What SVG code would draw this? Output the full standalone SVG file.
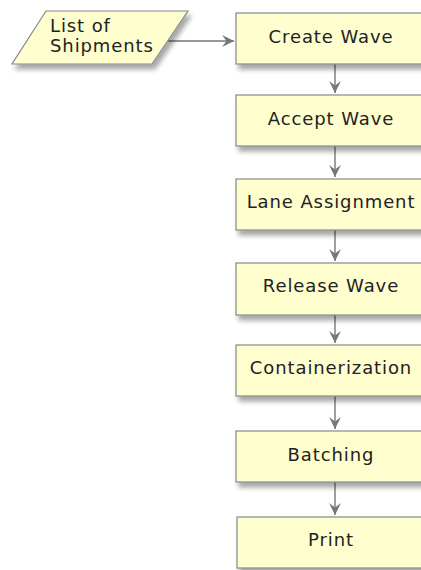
<svg xmlns="http://www.w3.org/2000/svg" width="421" height="570" viewBox="0 0 421 570">
<style>
.node{fill:#FEFECE;stroke:#888888;stroke-width:1.2}
.lbl{font-family:"DejaVu Sans",Verdana,sans-serif;font-size:18px;fill:#222;letter-spacing:0.9px}
.c{text-anchor:middle}
.edge{stroke:#777777;stroke-width:1.4;fill:none}
</style>
<defs>
<filter id="sh" x="-20%" y="-20%" width="150%" height="170%">
<feGaussianBlur in="SourceAlpha" stdDeviation="2.5"/>
<feOffset dx="3" dy="5" result="b"/>
<feComponentTransfer><feFuncA type="linear" slope="0.35"/></feComponentTransfer>
<feMerge><feMergeNode/><feMergeNode in="SourceGraphic"/></feMerge>
</filter>
<marker id="ah" viewBox="0 0 12 12" refX="11" refY="6" markerWidth="13" markerHeight="13" markerUnits="userSpaceOnUse" orient="auto">
<path d="M0,0.5 L11,6 L0,11.5 L4,6 Z" fill="#777777"/>
</marker>
</defs>
<rect width="421" height="570" fill="#FFFFFF"/>
<g id="connectors">
<line class="edge" x1="168" y1="41" x2="234" y2="41" marker-end="url(#ah)"/>
<line class="edge" x1="335" y1="64" x2="335" y2="93" marker-end="url(#ah)"/>
<line class="edge" x1="335" y1="146" x2="335" y2="177" marker-end="url(#ah)"/>
<line class="edge" x1="335" y1="230" x2="335" y2="261" marker-end="url(#ah)"/>
<line class="edge" x1="335" y1="315" x2="335" y2="343" marker-end="url(#ah)"/>
<line class="edge" x1="335" y1="396" x2="335" y2="429" marker-end="url(#ah)"/>
<line class="edge" x1="335" y1="482" x2="335" y2="515" marker-end="url(#ah)"/>
</g>
<g id="list">
<polygon class="node" filter="url(#sh)" points="46,11 188,11 152,64 12,64"/>
<text class="lbl" x="50" y="32">List of</text>
<text class="lbl" x="50" y="52">Shipments</text>
</g>
<g id="create">
<rect class="node" filter="url(#sh)" x="236" y="13" width="195" height="51"/>
<text class="lbl c" x="331" y="43">Create Wave</text>
</g>
<g id="accept">
<rect class="node" filter="url(#sh)" x="236" y="95" width="195" height="51"/>
<text class="lbl c" x="331" y="125">Accept Wave</text>
</g>
<g id="lane">
<rect class="node" filter="url(#sh)" x="236" y="179" width="195" height="51"/>
<text class="lbl c" x="331" y="208">Lane Assignment</text>
</g>
<g id="release">
<rect class="node" filter="url(#sh)" x="236" y="263" width="195" height="52"/>
<text class="lbl c" x="331" y="292">Release Wave</text>
</g>
<g id="container">
<rect class="node" filter="url(#sh)" x="236" y="345" width="195" height="51"/>
<text class="lbl c" x="331" y="374">Containerization</text>
</g>
<g id="batching">
<rect class="node" filter="url(#sh)" x="236" y="431" width="195" height="51"/>
<text class="lbl c" x="331" y="461">Batching</text>
</g>
<g id="print">
<rect class="node" filter="url(#sh)" x="237" y="517" width="195" height="51"/>
<text class="lbl c" x="331" y="546">Print</text>
</g>
</svg>
